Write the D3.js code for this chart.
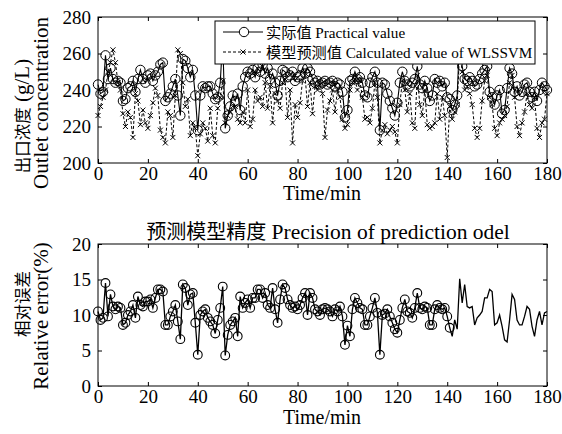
<!DOCTYPE html>
<html><head><meta charset="utf-8">
<script src="https://cdn.jsdelivr.net/npm/d3@7"></script>
<style>body{margin:0;background:#fff}</style>
</head><body>
<svg id="c" width="562" height="434"></svg>
<script>
const minutes = d3.range(0, 181);
const practical = [243,238,239,259,246,252,246,244,245,244,234,235,241,242,245,239,246,251,246,244,
248,249,245,248,250,254,255,234,236,238,242,246,237,226,257,256,252,247,251,237,
218,237,242,241,242,242,238,235,236,244,268,219,226,231,237,234,238,229,242,247,
250,249,251,247,252,250,254,249,252,246,249,244,237,245,251,250,247,248,250,245,
247,248,252,249,252,250,246,244,245,243,244,245,243,244,245,242,244,243,239,225,
229,245,246,250,246,247,244,237,236,244,247,250,244,218,244,243,238,234,230,226,
233,244,250,245,243,242,244,246,253,243,241,245,241,234,237,246,244,245,242,244,
236,235,229,232,237,270,253,246,245,247,245,242,243,246,249,251,253,239,236,232,
237,240,227,229,241,252,249,239,242,237,239,243,244,239,236,239,234,240,244,242,240];
const predicted = [226,231,236,240,250,255,262,255,244,240,227,220,228,225,214,238,234,221,229,222,
219,226,233,241,237,218,214,211,228,226,214,237,262,260,244,231,235,215,222,219,
204,216,222,219,212,230,215,211,230,236,245,222,226,228,231,231,224,222,228,222,
240,220,224,240,234,236,231,244,230,242,222,238,234,230,244,246,225,240,211,232,
225,233,245,248,231,244,227,242,240,243,238,214,229,234,240,228,240,236,224,219,
221,240,244,246,240,245,236,224,225,222,230,244,236,211,218,221,216,218,220,217,
211,232,245,240,228,238,222,219,248,232,226,240,221,219,220,222,238,224,236,226,
203,231,224,228,232,262,250,240,242,238,232,219,214,219,234,245,248,236,232,219,
215,222,224,226,231,244,248,236,220,215,222,228,238,232,230,236,219,214,222,224,238];
const relError = [10.5,9.3,9.6,14.5,9.8,12.9,11.2,10.8,11.2,11,8.6,8.9,10,10.5,11.4,9.6,12.6,11.4,11.2,11.9,
11.9,12.2,11,12.4,13.6,13.6,13.3,8.6,8.6,9.8,10.5,11.4,9.1,6.6,14.3,13.8,11.4,12.9,13.1,8.9,
4.4,10,10.5,10.8,9.6,9.1,8.6,7.4,9.3,11,14,4.3,7.2,8.6,9.1,9.6,7,12.6,11,11.7,
12.2,11,12.4,12.4,13.6,13.6,12.4,13.1,11.4,11,13.8,10.8,8.9,12.2,14.3,13.8,12.2,11.4,11,11.2,
10.8,11.4,12.4,13.1,10,13.1,12.4,10.8,10.5,10,10.8,11,10.8,10.5,9.8,10.8,10.5,11.2,9.8,5.8,
8.5,7,10.8,12.4,11.7,11,10.8,8.6,8.6,9.8,11,12.4,10.3,4.4,10,10.2,10.8,9.8,8.9,8,
7.5,9.3,11,12.2,10.5,10.3,9.6,11,13.1,11,10.8,11.2,11,8.6,8.6,10.8,11.4,11,10.8,11,
9.8,8.2,7,9.3,8,15.1,11.7,14.3,11.2,11,11.2,8.6,9.6,10,10.5,12.4,12.4,13.6,13.3,8.6,
8.9,10,8.4,6.5,6.2,9.3,12.9,12.2,9.3,8.6,8.6,9.8,11.2,10.8,8.4,7,9.3,10.5,8.6,10.3,10.5];
const xTicks = [0,20,40,60,80,100,120,140,160,180];
const topYTicks = [200,220,240,260,280];
const botYTicks = [0,5,10,15,20];
const lastCircleMinute = 141;

const svg = d3.select('#c');
const SERIF = "'Liberation Serif','Times New Roman','Noto Sans CJK SC',serif";
const L = 98, R = 547;
const topBox = {y0: 17, y1: 163}, botBox = {y0: 244, y1: 386};
const x = d3.scaleLinear().domain([0,180]).range([L,R]);
const yT = d3.scaleLinear().domain([200,280]).range([topBox.y1, topBox.y0]);
const yB = d3.scaleLinear().domain([0,20]).range([botBox.y1, botBox.y0]);

function frame(y, box, yticks) {
  const g = svg.append('g');
  g.append('g').attr('transform',`translate(0,${box.y1})`)
    .call(d3.axisBottom(x).tickValues(xTicks).tickSizeInner(-4).tickSizeOuter(0).tickPadding(3))
    .call(s=>s.select('.domain').remove());
  g.append('g').attr('transform',`translate(0,${box.y0})`)
    .call(d3.axisTop(x).tickValues(xTicks).tickSizeInner(-4).tickSizeOuter(0).tickFormat(''))
    .call(s=>s.select('.domain').remove());
  g.append('g').attr('transform',`translate(${L},0)`)
    .call(d3.axisLeft(y).tickValues(yticks).tickSizeInner(-4).tickSizeOuter(0).tickPadding(7))
    .call(s=>s.select('.domain').remove());
  g.append('g').attr('transform',`translate(${R},0)`)
    .call(d3.axisRight(y).tickValues(yticks).tickSizeInner(-4).tickSizeOuter(0).tickFormat(''))
    .call(s=>s.select('.domain').remove());
  g.selectAll('text').attr('font-family',SERIF).attr('font-size',19).attr('fill','#000');
  g.selectAll('.tick line').attr('stroke','#000');
  g.append('rect').attr('x',L).attr('y',box.y0).attr('width',R-L).attr('height',box.y1-box.y0)
    .attr('fill','none').attr('stroke','#000').attr('stroke-width',1);
  return g;
}
const topData = minutes.map((m,i)=>({m, p: practical[i], c: predicted[i]}));
const botData = minutes.map((m,i)=>({m, e: relError[i]}));

const gt = svg.append('g');
gt.append('path').datum(topData)
  .attr('d', d3.line().x(d=>x(d.m)).y(d=>yT(d.c)))
  .attr('fill','none').attr('stroke','#000').attr('stroke-width',1).attr('stroke-dasharray','3,2');
gt.selectAll('.cr').data(topData).join('path').attr('class','cr')
  .attr('transform',d=>`translate(${x(d.m)},${yT(d.c)})`)
  .attr('d','M-2.5,-2.5L2.5,2.5M-2.5,2.5L2.5,-2.5').attr('stroke','#000').attr('stroke-width',1);
gt.append('path').datum(topData)
  .attr('d', d3.line().x(d=>x(d.m)).y(d=>yT(d.p)))
  .attr('fill','none').attr('stroke','#000').attr('stroke-width',1.1);
gt.selectAll('circle').data(topData).join('circle')
  .attr('cx',d=>x(d.m)).attr('cy',d=>yT(d.p)).attr('r',4.7)
  .attr('fill','none').attr('stroke','#000').attr('stroke-width',1);

const gb = svg.append('g');
gb.append('path').datum(botData)
  .attr('d', d3.line().x(d=>x(d.m)).y(d=>yB(d.e)))
  .attr('fill','none').attr('stroke','#000').attr('stroke-width',1.3);
gb.selectAll('circle').data(botData.filter(d=>d.m<=lastCircleMinute)).join('circle')
  .attr('cx',d=>x(d.m)).attr('cy',d=>yB(d.e)).attr('r',4.4)
  .attr('fill','none').attr('stroke','#000').attr('stroke-width',1.1);

frame(yT, topBox, topYTicks);
frame(yB, botBox, botYTicks);

const lg = svg.append('g');
lg.append('rect').attr('x',215).attr('y',21).attr('width',320).attr('height',43)
  .attr('fill','#fff').attr('stroke','#000').attr('stroke-width',1);
lg.append('line').attr('x1',223).attr('x2',263).attr('y1',32).attr('y2',32).attr('stroke','#000');
lg.append('circle').attr('cx',244).attr('cy',32).attr('r',4.7).attr('fill','#fff').attr('stroke','#000');
lg.append('line').attr('x1',223).attr('x2',263).attr('y1',52).attr('y2',52).attr('stroke','#000').attr('stroke-dasharray','3,2');
lg.append('path').attr('transform','translate(243,52)').attr('d','M-2.5,-2.5L2.5,2.5M-2.5,2.5L2.5,-2.5').attr('stroke','#000');
lg.append('text').attr('x',266).attr('y',37.5).text('实际值 Practical value');
lg.append('text').attr('x',266).attr('y',57.5).text('模型预测值 Calculated value of WLSSVM');
lg.selectAll('text').attr('font-family',SERIF).attr('font-size',15.2).attr('fill','#000');

function txt(xp, yp, s, size, opts={}) {
  const t = svg.append('text').attr('x',xp).attr('y',yp).text(s)
    .attr('font-family',SERIF).attr('font-size',size).attr('fill','#000')
    .attr('text-anchor', opts.anchor || 'middle');
  if (opts.rotate) t.attr('transform',`rotate(-90,${xp},${yp})`);
  return t;
}
txt(322, 200, 'Time/min', 20);
txt(322, 424, 'Time/min', 20);
const title = svg.append('text').attr('x',328).attr('y',239).attr('text-anchor','middle')
  .attr('font-family',SERIF).attr('font-size',21.5).attr('fill','#000');
title.append('tspan').attr('font-size',20).text('预测模型精度');
title.append('tspan').text(' Precision of prediction odel');

const yl1 = svg.append('text').attr('x',29).attr('y',116).attr('text-anchor','middle')
  .attr('transform','rotate(-90,29,116)').attr('font-family',SERIF).attr('font-size',21).attr('fill','#000');
yl1.append('tspan').attr('font-size',16.5).text('出口浓度');
yl1.append('tspan').text(' (g/L)');
txt(48, 103, 'Outlet concentration', 21, {rotate:true});

const yl2 = svg.append('text').attr('x',29).attr('y',304).attr('text-anchor','middle')
  .attr('transform','rotate(-90,29,304)').attr('font-family',SERIF).attr('font-size',16.5).attr('fill','#000');
yl2.text('相对误差');
txt(48, 316, 'Relative error(%)', 21, {rotate:true});
</script>
</body></html>
